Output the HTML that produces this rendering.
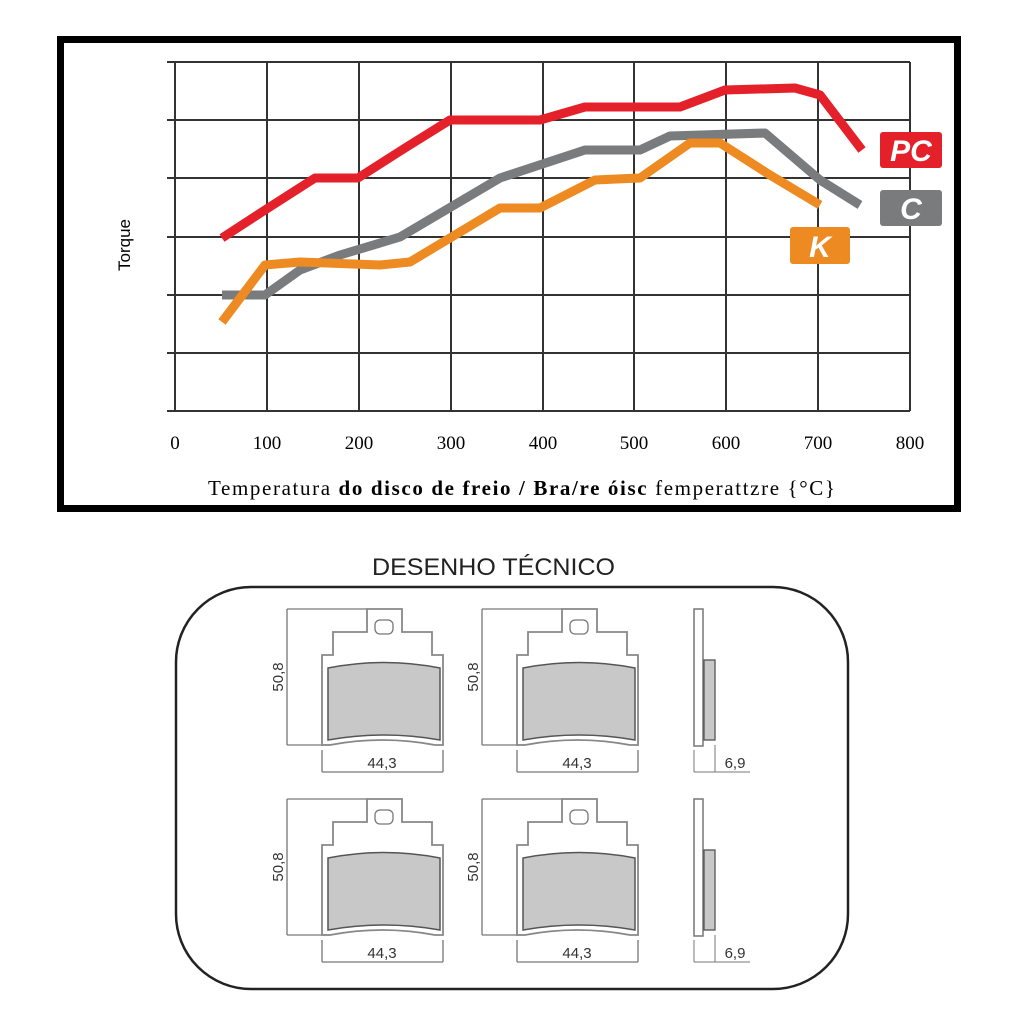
<!DOCTYPE html>
<html><head><meta charset="utf-8"><style>
html,body{margin:0;padding:0;background:#fff;}
svg{display:block;}
</style></head><body>
<svg width="1024" height="1024" viewBox="0 0 1024 1024" xmlns="http://www.w3.org/2000/svg">
<rect x="60.5" y="39.5" width="897" height="469" fill="none" stroke="#000" stroke-width="7"/>
<g stroke="#333" stroke-width="2">
<line x1="167" y1="62" x2="910" y2="62"/><line x1="167" y1="120" x2="910" y2="120"/>
<line x1="167" y1="178" x2="910" y2="178"/><line x1="167" y1="237" x2="910" y2="237"/>
<line x1="167" y1="295" x2="910" y2="295"/><line x1="167" y1="353" x2="910" y2="353"/>
<line x1="167" y1="411" x2="910" y2="411"/>
<line x1="175" y1="62" x2="175" y2="411"/><line x1="267" y1="62" x2="267" y2="411"/>
<line x1="359" y1="62" x2="359" y2="411"/><line x1="451" y1="62" x2="451" y2="411"/>
<line x1="543" y1="62" x2="543" y2="411"/><line x1="634" y1="62" x2="634" y2="411"/>
<line x1="726" y1="62" x2="726" y2="411"/><line x1="818" y1="62" x2="818" y2="411"/>
<line x1="910" y1="62" x2="910" y2="411"/>
</g>
<g fill="none" stroke-width="9" stroke-linejoin="round" stroke-linecap="butt">
<polyline stroke="#e4202a" points="222,238 265,210 315,178 358,178 405,148 450,120 540,120 585,107 680,107 725,90 795,88 820,95 862,150"/>
<polyline stroke="#7a7b7d" points="222,295 265,295 300,270 340,255 400,237 500,178 585,150 640,150 670,136 765,133 820,180 860,205"/>
<polyline stroke="#ee8a22" points="222,322 265,265 300,262 380,265 410,262 455,235 500,208 540,208 595,180 640,178 690,143 720,143 770,175 820,205"/>
</g>
<rect x="880" y="132" width="62" height="36" rx="3" fill="#e4202a"/>
<rect x="880" y="190" width="62" height="36" rx="3" fill="#7a7b7d"/>
<rect x="790" y="227" width="60" height="37" rx="3" fill="#ee8a22"/>
<g fill="#fff" font-family="Liberation Sans, sans-serif" font-weight="bold" font-style="italic" font-size="30" text-anchor="middle">
<text x="911" y="161">PC</text><text x="911" y="219">C</text><text x="820" y="257">K</text>
</g>
<text x="130" y="245" transform="rotate(-90 130 245)" font-family="Liberation Sans, sans-serif" font-size="17" text-anchor="middle">Torque</text>
<g font-family="Liberation Serif, serif" font-size="19" text-anchor="middle">
<text x="175" y="449">0</text><text x="267" y="449">100</text><text x="359" y="449">200</text><text x="451" y="449">300</text><text x="543" y="449">400</text><text x="634" y="449">500</text><text x="726" y="449">600</text><text x="818" y="449">700</text><text x="910" y="449">800</text>
</g>
<text x="208" y="495" font-family="Liberation Serif, serif" font-size="21" textLength="627" lengthAdjust="spacing">Temperatura <tspan font-weight="bold">do disco de freio / Bra/re óisc</tspan> femperattzre {°C}</text>
<text x="372" y="575" font-family="Liberation Sans, sans-serif" font-size="24" textLength="243" lengthAdjust="spacingAndGlyphs" fill="#222">DESENHO TÉCNICO</text>
<rect x="176" y="587" width="672" height="402" rx="75" fill="none" stroke="#222" stroke-width="2.5"/>
<defs>
<g id="pad">
<g stroke="#777" stroke-width="1.3" fill="none">
<line x1="287" y1="609" x2="367" y2="609"/>
<line x1="287" y1="609" x2="287" y2="745"/>
<line x1="287" y1="745" x2="330" y2="745"/>
<line x1="322" y1="750" x2="322" y2="772"/><line x1="443" y1="750" x2="443" y2="772"/>
<line x1="322" y1="772" x2="443" y2="772"/>
<path d="M367,609 H402 V632 H432 V655 H443 V745 L435,745 Q382,735 330,745 L322,745 V655 H333 V632 H367 Z" stroke="#888" stroke-width="1.8"/>
<rect x="375" y="620" width="18" height="14" rx="5"/>
</g>
<path d="M328,668 Q384,657 440,668 V740 Q384,730 328,740 Z" fill="#c8c8c8" stroke="#555" stroke-width="1.5"/>
<text x="382" y="768" font-family="Liberation Sans, sans-serif" font-size="15" text-anchor="middle" fill="#333">44,3</text>
<text x="283" y="677" transform="rotate(-90 283 677)" font-family="Liberation Sans, sans-serif" font-size="15" text-anchor="middle" fill="#333">50,8</text>
</g>
<g id="side">
<rect x="694" y="609" width="9" height="137" fill="#fff" stroke="#777" stroke-width="1.5"/>
<rect x="704" y="660" width="11" height="80" fill="#c8c8c8" stroke="#555" stroke-width="1.3"/>
<line x1="694" y1="750" x2="694" y2="772" stroke="#777"/><line x1="715" y1="745" x2="715" y2="772" stroke="#777"/>
<line x1="694" y1="772" x2="750" y2="772" stroke="#777"/>
<text x="735" y="768" font-family="Liberation Sans, sans-serif" font-size="15" text-anchor="middle" fill="#333">6,9</text>
</g>
</defs>
<use href="#pad"/><use href="#pad" x="195"/>
<use href="#pad" y="190"/><use href="#pad" x="195" y="190"/>
<use href="#side"/><use href="#side" y="190"/>
</svg>
</body></html>
